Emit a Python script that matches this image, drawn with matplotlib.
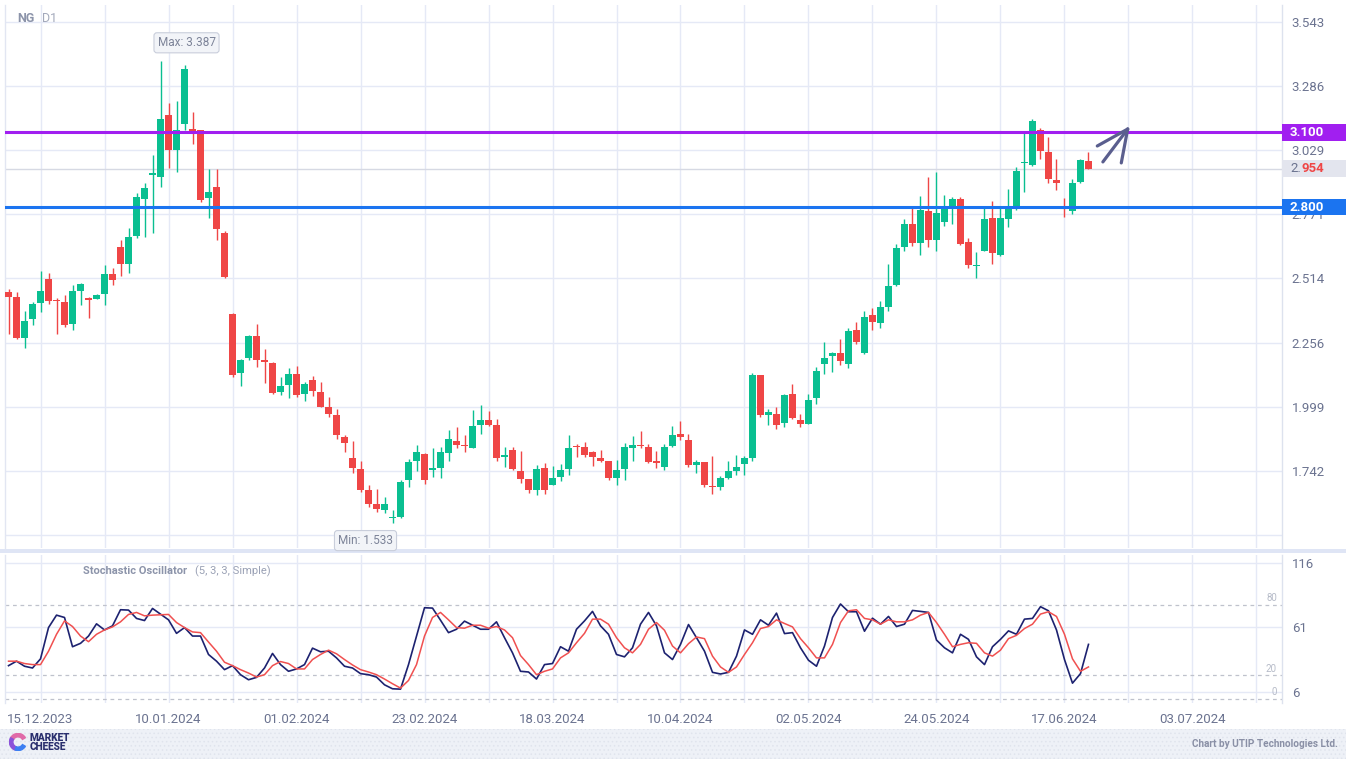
import matplotlib
matplotlib.use('Agg')
import matplotlib.pyplot as plt
import matplotlib.transforms as mtransforms
from matplotlib.patches import Rectangle, Wedge

plt.rcParams['font.family'] = ['Roboto', 'DejaVu Sans']
plt.rcParams['hatch.linewidth'] = 0.6

# ---------------- data ----------------
opens = [2.459, 2.440, 2.275, 2.350, 2.416, 2.511, 2.427, 2.418, 2.331, 2.463,
         2.435, 2.432, 2.452, 2.531, 2.639, 2.572, 2.685, 2.833, 2.930, 2.922,
         3.169, 3.029, 3.135, 3.113, 3.109, 2.837, 2.880, 2.697, 2.372, 2.135,
         2.195, 2.282, 2.182, 2.174, 2.058, 2.085, 2.129, 2.050, 2.105, 2.057,
         1.997, 1.965, 1.876, 1.792, 1.748, 1.664, 1.607, 1.584, 1.552, 1.555,
         1.705, 1.781, 1.808, 1.746, 1.753, 1.813, 1.860, 1.844, 1.833, 1.925,
         1.945, 1.925, 1.798, 1.824, 1.740, 1.708, 1.664, 1.752, 1.684, 1.716,
         1.748, 1.840, 1.836, 1.816, 1.792, 1.780, 1.712, 1.748, 1.832, 1.844,
         1.836, 1.778, 1.756, 1.840, 1.889, 1.864, 1.764, 1.776, 1.680, 1.676,
         1.712, 1.740, 1.768, 1.792, 2.125, 1.965, 1.969, 1.933, 2.049, 1.945,
         1.929, 2.033, 2.170, 2.202, 2.214, 2.170, 2.306, 2.214, 2.366, 2.334,
         2.398, 2.487, 2.639, 2.732, 2.656, 2.784, 2.668, 2.740, 2.804, 2.832,
         2.660, 2.563, 2.623, 2.756, 2.607, 2.752, 2.792, 2.975, 2.969, 3.109,
         3.021, 2.908, 2.794, 2.784, 2.900, 2.985]
highs = [2.471, 2.460, 2.382, 2.418, 2.543, 2.535, 2.436, 2.447, 2.487, 2.496,
         2.440, 2.451, 2.567, 2.555, 2.668, 2.716, 2.856, 2.896, 3.009, 3.387,
         3.218, 3.226, 3.370, 3.182, 3.111, 2.953, 2.953, 2.705, 2.376, 2.190,
         2.286, 2.331, 2.230, 2.178, 2.117, 2.154, 2.160, 2.098, 2.121, 2.097,
         2.037, 1.989, 1.883, 1.860, 1.780, 1.684, 1.668, 1.635, 1.583, 1.704,
         1.788, 1.844, 1.812, 1.832, 1.836, 1.904, 1.917, 1.884, 1.986, 2.005,
         1.981, 1.949, 1.836, 1.836, 1.820, 1.708, 1.764, 1.772, 1.760, 1.768,
         1.885, 1.848, 1.856, 1.820, 1.824, 1.780, 1.784, 1.852, 1.880, 1.900,
         1.848, 1.820, 1.848, 1.921, 1.941, 1.889, 1.784, 1.776, 1.800, 1.720,
         1.780, 1.804, 1.800, 2.133, 2.125, 1.989, 1.997, 2.049, 2.089, 1.969,
         2.049, 2.158, 2.258, 2.218, 2.270, 2.314, 2.338, 2.382, 2.394, 2.422,
         2.571, 2.651, 2.752, 2.796, 2.844, 2.920, 2.941, 2.848, 2.840, 2.840,
         2.676, 2.619, 2.796, 2.824, 2.796, 2.872, 2.961, 3.097, 3.153, 3.117,
         3.081, 2.993, 2.836, 2.912, 2.993, 3.021]
lows = [2.290, 2.272, 2.235, 2.327, 2.378, 2.410, 2.290, 2.318, 2.306, 2.406,
        2.354, 2.429, 2.408, 2.487, 2.524, 2.536, 2.677, 2.681, 2.694, 2.882,
        2.958, 2.942, 3.109, 3.053, 2.819, 2.757, 2.669, 2.516, 2.119, 2.081,
        2.186, 2.159, 2.095, 2.050, 2.045, 2.034, 2.036, 2.022, 2.042, 1.997,
        1.958, 1.870, 1.817, 1.733, 1.655, 1.596, 1.576, 1.572, 1.533, 1.551,
        1.677, 1.741, 1.689, 1.717, 1.713, 1.781, 1.833, 1.816, 1.832, 1.890,
        1.921, 1.781, 1.757, 1.744, 1.693, 1.653, 1.644, 1.648, 1.682, 1.700,
        1.724, 1.796, 1.796, 1.760, 1.776, 1.704, 1.684, 1.704, 1.780, 1.832,
        1.772, 1.752, 1.744, 1.836, 1.864, 1.756, 1.732, 1.676, 1.648, 1.664,
        1.710, 1.724, 1.724, 1.780, 1.957, 1.925, 1.909, 1.917, 1.949, 1.917,
        1.927, 2.009, 2.129, 2.137, 2.166, 2.154, 2.250, 2.210, 2.306, 2.314,
        2.382, 2.483, 2.623, 2.643, 2.607, 2.639, 2.623, 2.724, 2.732, 2.648,
        2.555, 2.515, 2.623, 2.571, 2.603, 2.720, 2.788, 2.860, 2.965, 2.993,
        2.896, 2.868, 2.760, 2.772, 2.898, 2.952]
closes = [2.439, 2.275, 2.342, 2.410, 2.463, 2.424, 2.423, 2.326, 2.463, 2.491,
          2.428, 2.447, 2.531, 2.508, 2.572, 2.680, 2.840, 2.876, 2.935, 3.153,
          3.029, 3.109, 3.354, 3.106, 2.829, 2.860, 2.713, 2.519, 2.125, 2.186,
          2.282, 2.186, 2.179, 2.054, 2.081, 2.129, 2.045, 2.089, 2.062, 1.998,
          1.970, 1.886, 1.853, 1.753, 1.664, 1.609, 1.588, 1.607, 1.555, 1.696,
          1.776, 1.816, 1.705, 1.750, 1.816, 1.868, 1.845, 1.839, 1.921, 1.945,
          1.925, 1.793, 1.802, 1.749, 1.709, 1.664, 1.748, 1.664, 1.712, 1.744,
          1.832, 1.836, 1.804, 1.796, 1.780, 1.712, 1.744, 1.836, 1.844, 1.840,
          1.776, 1.774, 1.836, 1.885, 1.877, 1.764, 1.776, 1.684, 1.676, 1.712,
          1.740, 1.756, 1.792, 2.125, 1.965, 1.977, 1.925, 2.045, 1.953, 1.929,
          2.025, 2.142, 2.194, 2.214, 2.182, 2.302, 2.258, 2.358, 2.338, 2.398,
          2.483, 2.635, 2.732, 2.656, 2.788, 2.668, 2.776, 2.792, 2.832, 2.652,
          2.567, 2.566, 2.752, 2.615, 2.756, 2.790, 2.945, 2.979, 3.145, 3.025,
          2.913, 2.896, 2.790, 2.896, 2.989, 2.954]

stoch_k = [28.3, 32.1, 27.8, 26.3, 34.1, 60.7, 71.3, 69.3, 44.4, 47.3,
           53.5, 63.9, 58.7, 62.2, 75.9, 75.6, 68.5, 66.7, 77.0, 72.2,
           67.3, 55.8, 60.7, 53.5, 53.5, 37.8, 32.1, 24.9, 28.3, 20.6,
           16.3, 18.3, 26.3, 38.7, 29.2, 23.5, 25.5, 29.2, 43.2, 40.1,
           40.6, 34.9, 27.8, 26.3, 21.5, 20.6, 18.6, 12.0, 8.6, 8.3,
           29.2, 53.5, 77.6, 77.3, 67.0, 56.4, 59.3, 66.2, 62.7, 59.3,
           59.3, 65.6, 52.1, 39.2, 23.5, 22.9, 16.9, 29.2, 30.1, 44.4,
           40.6, 59.3, 66.4, 74.5, 62.2, 55.0, 37.8, 35.8, 43.5, 63.6,
           73.6, 62.2, 39.2, 33.5, 46.4, 63.3, 52.1, 40.6, 22.6, 21.2,
           22.6, 36.4, 58.7, 55.0, 67.3, 62.7, 73.0, 55.6, 56.4, 43.5,
           32.9, 27.8, 45.0, 69.3, 80.8, 74.2, 74.2, 57.6, 68.7, 63.6,
           70.2, 61.6, 63.6, 75.3, 74.5, 73.6, 50.1, 43.5, 39.2, 55.0,
           50.7, 35.8, 29.2, 44.4, 50.7, 57.9, 55.0, 67.9, 68.5, 78.5,
           75.0, 58.7, 33.5, 13.4, 21.5, 46.4]
stoch_d = [32.1, 32.1, 30.1, 29.2, 29.2, 40.6, 55.0, 66.4, 61.6, 53.5,
           48.7, 55.0, 58.7, 61.3, 65.6, 71.9, 73.6, 70.7, 71.3, 71.6,
           71.9, 65.0, 60.7, 57.0, 56.4, 48.4, 40.6, 31.2, 28.3, 24.9,
           22.0, 18.6, 20.6, 28.3, 31.8, 30.1, 25.5, 25.5, 33.5, 37.8,
           41.5, 38.4, 33.5, 28.9, 24.9, 22.9, 20.6, 16.9, 12.9, 9.2,
           15.7, 29.2, 53.5, 69.3, 73.6, 67.3, 60.7, 60.2, 62.7, 62.7,
           60.2, 61.6, 58.7, 52.1, 36.9, 29.2, 20.6, 23.5, 25.5, 34.9,
           39.2, 47.8, 55.8, 67.9, 67.9, 63.6, 52.1, 43.5, 39.2, 46.4,
           59.3, 65.0, 58.4, 45.0, 39.2, 47.0, 52.7, 51.3, 36.4, 27.2,
           22.6, 27.2, 37.8, 47.8, 59.9, 61.6, 67.3, 64.2, 61.3, 51.3,
           43.5, 34.9, 34.9, 46.4, 65.0, 75.0, 75.9, 68.5, 67.3, 63.6,
           67.3, 65.6, 65.6, 67.3, 71.3, 73.6, 65.0, 55.0, 44.4, 46.4,
           47.8, 47.3, 39.2, 36.4, 41.5, 51.3, 54.1, 59.9, 63.6, 72.2,
           74.2, 70.2, 55.0, 34.1, 23.5, 27.2]

date_labels = ['15.12.2023', '10.01.2024', '01.02.2024', '23.02.2024', '18.03.2024',
               '10.04.2024', '02.05.2024', '24.05.2024', '17.06.2024', '03.07.2024']
date_label_pos = [4, 20, 36, 52, 68, 84, 100, 116, 132, 148]
grid_pos = [4, 12, 20, 28, 36, 44, 52, 60, 68, 76, 84, 92, 100, 108, 116, 124,
            132, 140, 148, 156]

price_ticks = [3.543, 3.286, 3.029, 2.771, 2.514, 2.256, 1.999, 1.742, 1.485]
price_tick_labels = ['3.543', '3.286', '3.029', '2.771', '2.514', '2.256', '1.999', '1.742', '']
stoch_ticks = [116, 61, 6]
stoch_levels = [80, 20, 0]

resistance = 3.100
support = 2.800
last_price = 2.954
max_idx, max_price = 19, 3.387
min_idx, min_price = 48, 1.533
# hand-drawn arrow (annotation): shaft start, tip, two head ends (bar index, price)
arrow_start = (136.8, 2.981)
arrow_tip = (139.9, 3.113)
arrow_head_l = (136.1, 3.045)
arrow_head_r = (139.1, 2.977)

# ---------------- style ----------------
GREEN = '#0abf91'
RED = '#ef4646'
GRID = '#e5e9f6'
TXT = '#6b7390'
PURPLE = '#a11ff0'
BLUE = '#1b74f0'

W, H = 1346, 759
fig = plt.figure(figsize=(W / 100, H / 100), dpi=100)


def rect(l, t, r, b):
    return [l / W, 1 - b / H, (r - l) / W, (b - t) / H]


ax = fig.add_axes(rect(5, 5, 1282, 548))
ax2 = fig.add_axes(rect(5, 555, 1282, 703))

xlim = (-0.44, 159.19)
for a in (ax, ax2):
    a.set_xlim(*xlim)
    for s in ('top', 'bottom'):
        a.spines[s].set_visible(False)
    a.spines['left'].set_color('#e2e6f2')
    a.spines['right'].set_color('#dde2ee')
    a.spines['left'].set_linewidth(1)
    a.spines['right'].set_linewidth(1)
    for g in grid_pos:
        a.axvline(g, color=GRID, lw=1, zorder=0)

ax.set_ylim(1.431, 3.611)
ax2.set_ylim(-3.5, 122.5)

# ---- price grid and ticks ----
ax.yaxis.tick_right()
ax.set_yticks(price_ticks)
ax.set_yticklabels(price_tick_labels)
ax.tick_params(axis='y', length=0, pad=7, labelsize=9.5, labelcolor=TXT)
ax.set_xticks([])
for p in price_ticks:
    ax.axhline(p, color=GRID, lw=1, zorder=0)

# current price line
ax.axhline(last_price, color='#d6d9e3', lw=1, zorder=0.5)

# ---- candles ----
for i in range(len(opens)):
    o, h, l, c = opens[i], highs[i], lows[i], closes[i]
    col = GREEN if c >= o else RED
    ax.vlines(i, l, h, color=col, lw=1.0, zorder=2)
    bottom = min(o, c)
    height = max(abs(c - o), 0.005)
    ax.bar(i, height, bottom=bottom, width=0.8, color=col, lw=0, zorder=3)

# ---- support / resistance ----
ax.axhline(resistance, color=PURPLE, lw=2.2, zorder=4)
ax.axhline(support, color=BLUE, lw=2.2, zorder=4)

# ---- arrow annotation ----
arrow_col = '#5a5e8e'
for end in (arrow_start, arrow_head_l, arrow_head_r):
    ax.plot([end[0], arrow_tip[0]], [end[1], arrow_tip[1]], color=arrow_col,
            lw=2.3, solid_capstyle='round', zorder=5)

# ---- right-side tags ----
ytr = ax.get_yaxis_transform()
tag_h = 0.034
tag_x0 = 1.0
tag_w = 70 / 1277
for val, fc in ((resistance, PURPLE), (support, BLUE)):
    ax.add_patch(Rectangle((tag_x0, val - tag_h), tag_w, 2 * tag_h, transform=ytr,
                           facecolor=fc, edgecolor='none', clip_on=False, zorder=6))
    ax.text(1 + 8 / 1277, val, f'{val:.3f}', transform=ytr, color='white',
            fontsize=9.5, fontweight='bold', va='center', ha='left', zorder=7,
            clip_on=False)

ax.add_patch(Rectangle((tag_x0, last_price - tag_h), tag_w, 2 * tag_h, transform=ytr,
                       facecolor='#e3e5ee', edgecolor='none', clip_on=False, zorder=6))
lp_str = f'{last_price:.3f}'
ax.text(1 + 8 / 1277, last_price, lp_str[:2], transform=ytr, color=TXT,
        fontsize=9.5, va='center', ha='left', zorder=7, clip_on=False)
off = mtransforms.offset_copy(ytr, fig=fig, x=11, y=0, units='dots')
ax.text(1 + 8 / 1277, last_price, lp_str[2:], transform=off, color=RED,
        fontsize=9.5, fontweight='bold', va='center', ha='left', zorder=7, clip_on=False)

# ---- max / min callouts ----
box = dict(boxstyle='round,pad=0.3,rounding_size=0.25', fc='#f2f4f8', ec='#c9cedb', lw=0.8)
ax.annotate(f'Max: {max_price:.3f}', xy=(max_idx, max_price), xytext=(26, 18),
            textcoords='offset pixels', ha='center', va='center', fontsize=8.5,
            color='#7c8398', bbox=box, zorder=8)
ax.annotate(f'Min: {min_price:.3f}', xy=(min_idx, min_price), xytext=(-27, -18),
            textcoords='offset pixels', ha='center', va='center', fontsize=8.5,
            color='#7c8398', bbox=box, zorder=8, annotation_clip=False)

# ---- symbol ----
fig.text(17 / W, 1 - 19 / H, 'NG', fontsize=9, fontweight='bold', color='#8c94aa',
         va='center', ha='left')
fig.text(42 / W, 1 - 19 / H, 'D1', fontsize=9, color='#a3a9bb', va='center', ha='left')

# ---------------- stochastic ----------------
idx = list(range(len(stoch_k)))
ax2.plot(idx, stoch_k, color='#1d2270', lw=1.2, zorder=3)
ax2.plot(idx, stoch_d, color='#f05050', lw=1.1, zorder=3)
ax2.yaxis.tick_right()
ax2.set_yticks(stoch_ticks)
ax2.set_yticklabels([str(t) for t in stoch_ticks])
ax2.tick_params(axis='y', length=0, pad=7, labelsize=9.5, labelcolor=TXT)
for t in stoch_ticks:
    ax2.axhline(t, color=GRID, lw=1, zorder=0)
for lv in stoch_levels:
    ax2.axhline(lv, color='#bfc2cc', lw=0.9, ls=(0, (3, 3)), zorder=1)
    ax2.text(1 - 5 / 1277, lv + 1.5, str(lv), transform=ax2.get_yaxis_transform(),
             ha='right', va='bottom', fontsize=7, color='#b6bbc8')

ax2.set_xticks(date_label_pos)
ax2.set_xticklabels(date_labels)
ax2.tick_params(axis='x', length=0, pad=7, labelsize=9.5, labelcolor=TXT)

fig.text(83 / W, 1 - 571 / H, 'Stochastic Oscillator', fontsize=8, fontweight='bold',
         color='#8c94aa', va='center', ha='left')
fig.text(195 / W, 1 - 571 / H, '(5, 3, 3, Simple)', fontsize=8, color='#9aa1b5',
         va='center', ha='left')

# separator band between panels
fig.patches.append(Rectangle((0, 1 - 553 / H), 1, 4 / H, transform=fig.transFigure,
                             facecolor='#dfe5f5', edgecolor='none', zorder=-1))

# footer (dotted light band)
fig.patches.append(Rectangle((0, 0), 1, 30 / H, transform=fig.transFigure,
                             facecolor='#eef1f7', edgecolor='#e0e4ed', lw=0,
                             hatch='....', zorder=-1))
# logo ring
axl = fig.add_axes(rect(9, 733, 27, 751))
axl.set_xlim(-1, 1)
axl.set_ylim(-1, 1)
axl.axis('off')
for th1, th2, c in ((30, 150, '#e06aa8'), (150, 250, '#8b52d9'), (250, 330, '#3d7ff2')):
    axl.add_patch(Wedge((0, 0), 0.95, th1, th2, width=0.38, color=c))
fig.text(30 / W, 1 - 738 / H, 'MARKET', fontsize=7.3, fontweight='heavy', color='#2a2f6e',
         va='center', ha='left')
fig.text(30 / W, 1 - 747 / H, 'CHEESE', fontsize=7.3, fontweight='heavy', color='#2a2f6e',
         va='center', ha='left')
fig.text(1338 / W, 1 - 744 / H, 'Chart by UTIP Technologies Ltd.', fontsize=7.2,
         fontweight='bold', color='#8a90a6', va='center', ha='right')

fig.savefig('out.png', dpi=100)
